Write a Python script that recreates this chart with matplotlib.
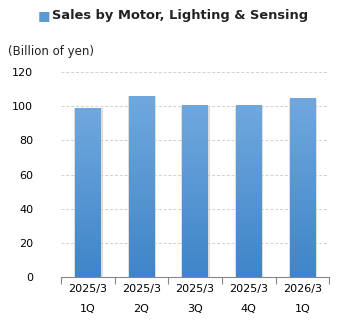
import matplotlib.pyplot as plt
import numpy as np
from matplotlib.patches import Rectangle

periods = ['2025/3', '2025/3', '2025/3', '2025/3', '2026/3']
quarters = ['1Q', '2Q', '3Q', '4Q', '1Q']
sales = [99.2, 106.1, 100.8, 100.8, 104.9]

fig = plt.figure(figsize=(3.45, 3.3), dpi=100)
ax = fig.add_axes([0.177, 0.161, 0.777, 0.62])

x = np.arange(len(sales))
width = 0.47

# gradient for the bars
grad = np.linspace(0, 1, 256).reshape(-1, 1)
cmap = plt.matplotlib.colors.LinearSegmentedColormap.from_list('b', ['#3f85c8', '#70a8de'])

for xi, v in zip(x, sales):
    # soft shadow
    ax.add_patch(Rectangle((xi - width / 2 - 0.02, 0), width + 0.06, v - 0.3,
                           facecolor='#c8c8c8', alpha=0.6, edgecolor='none', zorder=2))
    bar = ax.bar(xi, v, width, color='#5a99d6', zorder=3)[0]
    im = ax.imshow(grad, extent=[xi - width / 2, xi + width / 2, 0, v], origin='lower',
                   cmap=cmap, aspect='auto', zorder=4)
    im.set_clip_path(bar)

ax.set_xlim(-0.5, len(sales) - 0.5)
ax.set_ylim(0, 120)
ax.set_yticks(range(0, 121, 20))
ax.yaxis.grid(True, color='#d0d0d0', linestyle=(0, (3, 2)), linewidth=0.7, zorder=0)
ax.set_axisbelow(True)

ax.set_xticks(x)
ax.set_xticklabels([p + '\n\n' + q for p, q in zip(periods, quarters)], fontsize=8, linespacing=1.0)
ax.tick_params(axis='x', length=0, pad=5)
ax.set_xticks(np.arange(-0.5, len(sales), 1), minor=True)
ax.tick_params(axis='x', which='minor', length=5, color='#888888', width=0.8)
ax.tick_params(axis='y', length=0, labelsize=8, pad=20)

for s in ['top', 'right', 'left']:
    ax.spines[s].set_visible(False)
ax.spines['bottom'].set_color('#888888')
ax.spines['bottom'].set_linewidth(0.8)

fig.text(0.108, 0.953, '■', color='#5b9bd5', fontsize=9.5, va='center')
fig.text(0.15, 0.953, 'Sales by Motor, Lighting & Sensing', fontsize=9.4,
         fontweight='bold', va='center', color='#222222')
fig.text(0.023, 0.845, '(Billion of yen)', fontsize=8.5, va='center', color='#222222')

fig.savefig('out.png', dpi=100)
